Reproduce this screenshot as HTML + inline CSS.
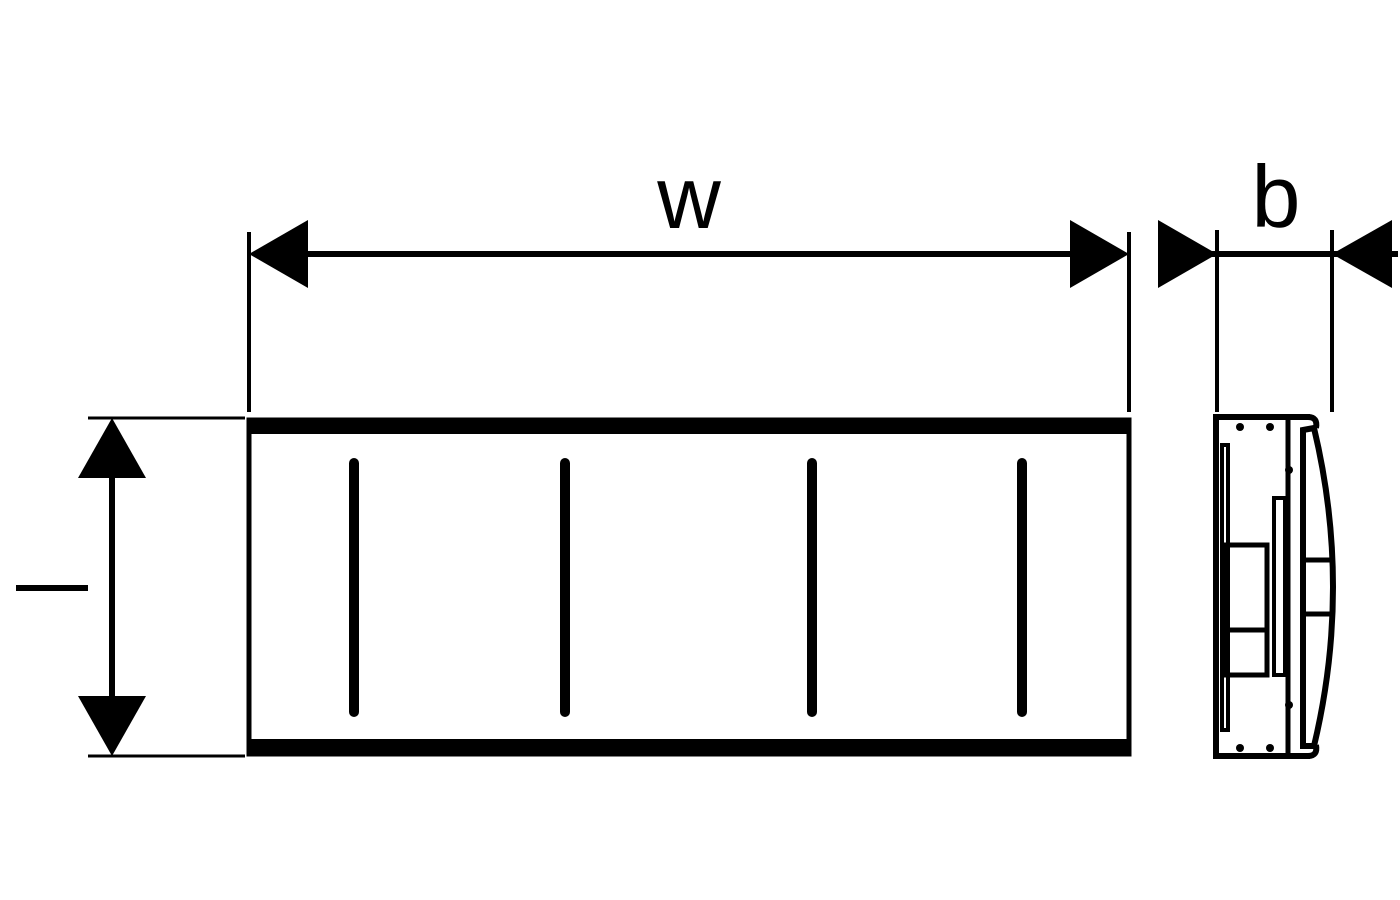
<!DOCTYPE html>
<html><head><style>html,body{margin:0;padding:0;background:#fff}svg{display:block}</style></head>
<body>
<svg width="1400" height="900" viewBox="0 0 1400 900" xmlns="http://www.w3.org/2000/svg">
<rect width="1400" height="900" fill="#fff"/>
<g stroke="#000" fill="none">
<line x1="249" y1="232" x2="249" y2="412" stroke-width="4"/>
<line x1="1129" y1="232" x2="1129" y2="412" stroke-width="4"/>
<line x1="300" y1="254" x2="1075" y2="254" stroke-width="6"/>
<rect x="249" y="420" width="880" height="334" stroke-width="5"/>
<line x1="247" y1="426" x2="1131" y2="426" stroke-width="16"/>
<line x1="247" y1="747" x2="1131" y2="747" stroke-width="16"/>
<g stroke-width="10" stroke-linecap="round">
<line x1="354" y1="463" x2="354" y2="712"/>
<line x1="565" y1="463" x2="565" y2="712"/>
<line x1="812" y1="463" x2="812" y2="712"/>
<line x1="1022" y1="463" x2="1022" y2="712"/>
</g>
<line x1="88" y1="418" x2="245" y2="418" stroke-width="3"/>
<line x1="88" y1="756" x2="245" y2="756" stroke-width="3"/>
<line x1="112" y1="470" x2="112" y2="705" stroke-width="6"/>
<line x1="16" y1="588" x2="88" y2="588" stroke-width="6"/>
<line x1="1217" y1="230" x2="1217" y2="412" stroke-width="4"/>
<line x1="1332" y1="230" x2="1332" y2="412" stroke-width="4"/>
<line x1="1158" y1="254" x2="1398" y2="254" stroke-width="6"/>
<!-- side view -->
<path d="M1310 417 H1216 V756 H1310" stroke-width="6"/>
<path d="M1308 417 Q1318 417 1316 428" stroke-width="6"/>
<path d="M1308 756 Q1318 756 1316 745" stroke-width="6"/>
<line x1="1288" y1="420" x2="1288" y2="754" stroke-width="5"/>
<path d="M1303 430 L1314 428 Q1352 587 1314 746 L1303 746 Z" stroke-width="6"/>
<line x1="1305" y1="560" x2="1330" y2="560" stroke-width="5"/>
<line x1="1305" y1="614" x2="1330" y2="614" stroke-width="5"/>
<rect x="1222" y="445" width="6" height="285" stroke-width="4"/>
<rect x="1226" y="545" width="41" height="130" stroke-width="5"/>
<line x1="1226" y1="630" x2="1267" y2="630" stroke-width="5"/>
<rect x="1274" y="498" width="11" height="177" stroke-width="4"/>
</g>
<g fill="#000">
<polygon points="249,254 308,220 308,288"/>
<polygon points="1129,254 1070,220 1070,288"/>
<polygon points="112,418 78,478 146,478"/>
<polygon points="112,756 78,696 146,696"/>
<polygon points="1217,254 1158,220 1158,288"/>
<polygon points="1332,254 1392,220 1392,288"/>
<circle cx="1240" cy="427" r="4"/><circle cx="1270" cy="427" r="4"/>
<circle cx="1240" cy="748" r="4"/><circle cx="1270" cy="748" r="4"/>
<circle cx="1289" cy="470" r="4"/><circle cx="1289" cy="705" r="4"/>
<text x="689" y="228" font-family="Liberation Sans, sans-serif" font-size="88" text-anchor="middle">w</text>
<text x="1276" y="227" font-family="Liberation Sans, sans-serif" font-size="88" text-anchor="middle">b</text>
</g>
</svg>
</body></html>
